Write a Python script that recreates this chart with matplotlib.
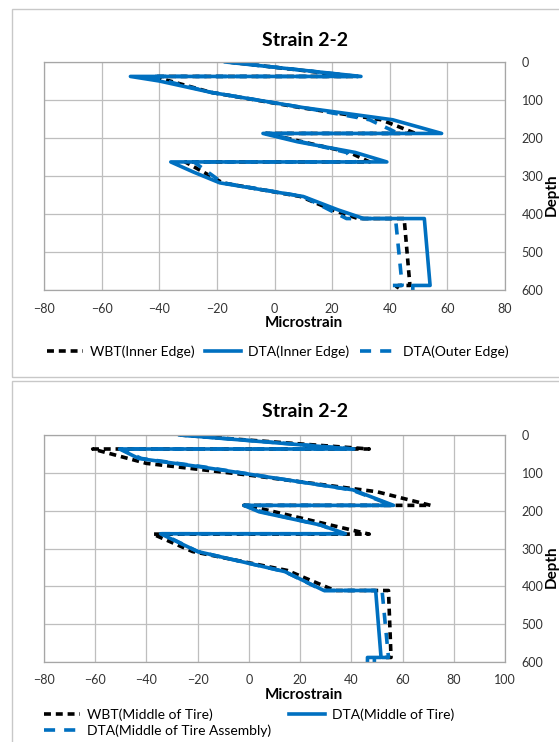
import matplotlib
matplotlib.use("Agg")
import matplotlib.pyplot as plt
from matplotlib.patches import Rectangle

### Data (strain in microstrain, depth)
# top chart: inner / outer edge
wbt_inner_depth  = [0, 38, 38, 80, 120, 152, 188, 188, 238, 263, 263, 318, 354, 389, 412, 412, 588, 588, 600]
wbt_inner_strain = [-16, 28, -42, -22, 9, 37, 49, -3, 26, 33, -31, -18, 9, 20, 29, 45, 47, 43, 42]

dta_inner_depth  = [0, 38, 38, 50, 80, 120, 152, 188, 188, 210, 238, 263, 263, 290, 318, 354, 389, 412, 412, 588, 588, 600]
dta_inner_strain = [-17, 30, -50, -40, -22, 10, 41, 58, -4, 8, 28, 39, -36, -28, -19, 10, 22, 31, 52, 54, 48, 48]

dta_outer_depth  = [0, 38, 38, 80, 120, 152, 188, 188, 238, 263, 263, 318, 354, 389, 412, 412, 588, 588, 600]
dta_outer_strain = [-16, 29, -44, -22, 10, 33, 43, -3, 25, 28, -28, -18, 10, 19, 25, 42, 44.3, 41, 41]

# bottom chart: middle of tire
wbt_mid_depth  = [0, 37, 37, 75, 106, 150, 186, 186, 195, 235, 262, 262, 308, 358, 411, 411, 588, 588, 600]
wbt_mid_strain = [-27, 47, -61, -40, 0, 50, 71, -2, 5, 30, 47, -37.5, -22, 15, 33.5, 54.5, 55.5, 53.5, 53.5]

dta_mid_depth  = [0, 37, 37, 62, 84, 145, 186, 186, 203, 238, 261, 261, 308, 361, 411, 411, 588, 588, 600]
dta_mid_strain = [-27, 40.5, -50.5, -43, -19, 40.6, 56.5, -2, 4, 28, 37.7, -34.5, -20, 14, 29.3, 49.5, 51.6, 46.3, 46.3]

dta_asm_depth  = [0, 37, 37, 62, 84, 145, 186, 186, 203, 238, 261, 261, 308, 361, 411, 411, 588, 588, 600]
dta_asm_strain = [-26, 41, -50, -42, -18, 40, 56, -1.5, 5, 28, 37, -34, -20, 14, 29, 52, 54.5, 49, 49]

top_xticks = list(range(-80, 81, 20))
bot_xticks = list(range(-80, 101, 20))
yticks = list(range(0, 601, 100))

blue = '#0070C0'
W, H = 559, 742
LW = 2.6

plt.rcParams['font.family'] = ['Lato', 'DejaVu Sans']
plt.rcParams['lines.scale_dashes'] = False


def fx(px):
    return px / W


def fy(py):
    return 1 - py / H


def setup_axes(ax, xticks):
    ax.set_xlim(xticks[0], xticks[-1])
    ax.set_ylim(600, 0)
    ax.set_xticks(xticks)
    ax.set_yticks(yticks)
    ax.yaxis.tick_right()
    ax.tick_params(length=0, labelsize=9, labelcolor='#333333')
    ax.tick_params(axis='x', pad=9)
    ax.tick_params(axis='y', pad=12)
    ax.grid(True, color='#BEBEBE', lw=0.9)
    ax.set_axisbelow(True)
    for s in ax.spines.values():
        s.set_color('#A6A6A6')
        s.set_linewidth(0.9)


fig = plt.figure(figsize=(W / 100, H / 100), dpi=100)

# panel borders
fig.add_artist(Rectangle((fx(12), fy(377)), 1, (377 - 9) / H, transform=fig.transFigure,
                         fill=False, ec='#C8C8C8', lw=1))
fig.add_artist(Rectangle((fx(12), -0.1), 1, fy(381) + 0.1, transform=fig.transFigure,
                         fill=False, ec='#C8C8C8', lw=1))

### Top chart
ax1 = fig.add_axes([fx(44), fy(290), fx(505) - fx(44), (290 - 62) / H])
setup_axes(ax1, top_xticks)
l1, = ax1.plot(wbt_inner_strain, wbt_inner_depth, color='black', lw=LW, dashes=(5, 3.5),
               label='WBT(Inner Edge)')
l2, = ax1.plot(dta_inner_strain, dta_inner_depth, color=blue, lw=LW, label='DTA(Inner Edge)')
l3, = ax1.plot(dta_outer_strain, dta_outer_depth, color=blue, lw=LW, dashes=(8, 6.5),
               label='DTA(Outer Edge)')
fig.text(fx(305), fy(40), 'Strain 2-2', ha='center', va='center', fontsize=14, fontweight='bold')
fig.text(fx(304), fy(323), 'Microstrain', ha='center', va='center', fontsize=11, fontweight='bold')
fig.text(fx(552), fy(195), 'Depth', ha='center', va='center', rotation=90, fontsize=11,
         fontweight='bold')
fig.legend(handles=[l1, l2, l3], loc='center left', bbox_to_anchor=(fx(47), fy(352)), ncol=3,
           frameon=False, fontsize=10, handlelength=2.6, handletextpad=0.5, columnspacing=0.75,
           borderaxespad=0, borderpad=0)

### Bottom chart
ax2 = fig.add_axes([fx(44), fy(662), fx(505) - fx(44), (662 - 435) / H])
setup_axes(ax2, bot_xticks)
m1, = ax2.plot(wbt_mid_strain, wbt_mid_depth, color='black', lw=LW, dashes=(5, 3.5),
               label='WBT(Middle of Tire)')
m2, = ax2.plot(dta_mid_strain, dta_mid_depth, color=blue, lw=LW, label='DTA(Middle of Tire)')
m3, = ax2.plot(dta_asm_strain, dta_asm_depth, color=blue, lw=LW, dashes=(8, 6.5),
               label='DTA(Middle of Tire Assembly)')
fig.text(fx(305), fy(411), 'Strain 2-2', ha='center', va='center', fontsize=14, fontweight='bold')
fig.text(fx(304), fy(695), 'Microstrain', ha='center', va='center', fontsize=11, fontweight='bold')
fig.text(fx(552), fy(567), 'Depth', ha='center', va='center', rotation=90, fontsize=11,
         fontweight='bold')
fig.legend(handles=[m1, m3, m2], loc='center left', bbox_to_anchor=(fx(44), fy(723)), ncol=2,
           frameon=False, fontsize=10, handlelength=2.6, handletextpad=0.5, columnspacing=1.3,
           labelspacing=0.25, borderaxespad=0, borderpad=0)

plt.savefig('out.png', dpi=100)
